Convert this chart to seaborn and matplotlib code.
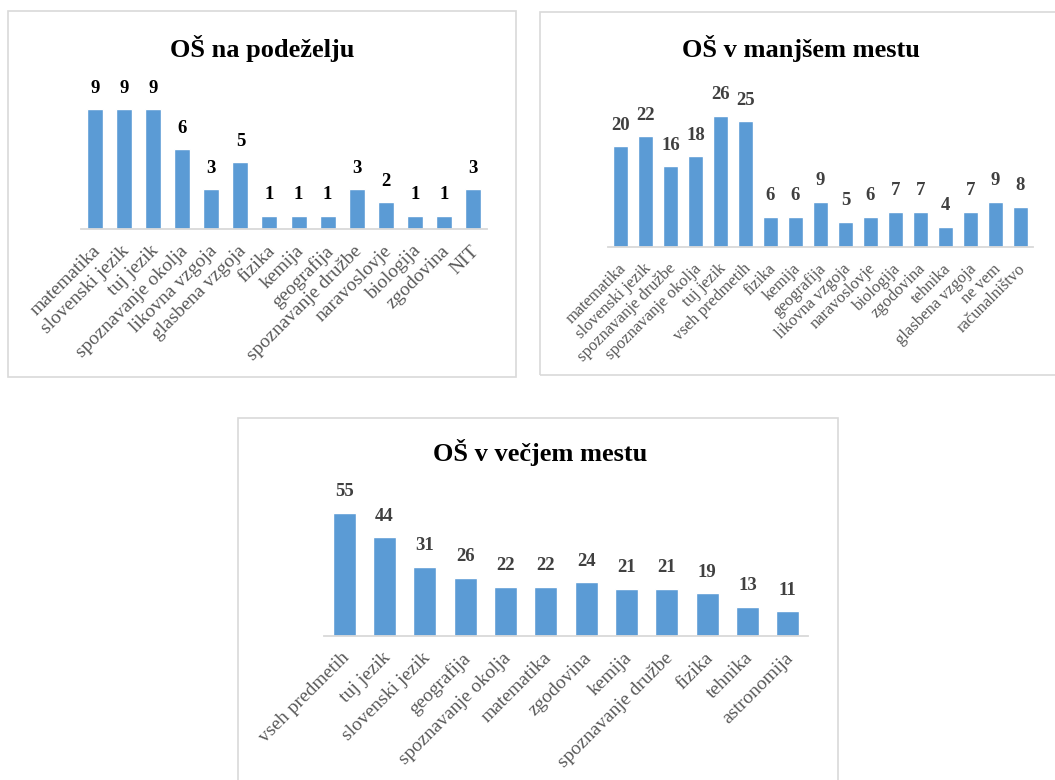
import matplotlib.pyplot as plt
import seaborn as sns
from matplotlib.patches import Rectangle
from matplotlib.transforms import ScaledTranslation

# podatki, odčitani s slike
podezelje_predmeti = ['matematika', 'slovenski jezik', 'tuj jezik', 'spoznavanje okolja',
                      'likovna vzgoja', 'glasbena vzgoja', 'fizika', 'kemija', 'geografija',
                      'spoznavanje družbe', 'naravoslovje', 'biologija', 'zgodovina', 'NIT']
podezelje_st = [9, 9, 9, 6, 3, 5, 1, 1, 1, 3, 2, 1, 1, 3]

manjse_predmeti = ['matematika', 'slovenski jezik', 'spoznavanje družbe', 'spoznavanje okolja',
                   'tuj jezik', 'vseh predmetih', 'fizika', 'kemija', 'geografija',
                   'likovna vzgoja', 'naravoslovje', 'biologija', 'zgodovina', 'tehnika',
                   'glasbena vzgoja', 'ne vem', 'računalništvo']
manjse_st = [20, 22, 16, 18, 26, 25, 6, 6, 9, 5, 6, 7, 7, 4, 7, 9, 8]

vecje_predmeti = ['vseh predmetih', 'tuj jezik', 'slovenski jezik', 'geografija',
                  'spoznavanje okolja', 'matematika', 'zgodovina', 'kemija',
                  'spoznavanje družbe', 'fizika', 'tehnika', 'astronomija']
vecje_st = [55, 44, 31, 26, 22, 22, 24, 21, 21, 19, 13, 11]

sns.set_style('white')
plt.rcParams['font.family'] = ['Liberation Serif', 'DejaVu Serif']

W, H = 1055, 780
fig = plt.figure(figsize=(W / 100, H / 100), dpi=100)


def px(x0, y0, x1, y1):
    # piksli (zgoraj levo) -> delež slike
    return [x0 / W, 1 - y1 / H, (x1 - x0) / W, (y1 - y0) / H]


def okvir(x0, y0, x1, y1):
    fig.add_artist(Rectangle((x0 / W, 1 - y1 / H), (x1 - x0) / W, (y1 - y0) / H,
                             transform=fig.transFigure, fill=False,
                             ec='#D9D9D9', lw=1.2))


def graf(rect, predmeti, st, ymax, naslov, tpos, lbl_col, tick_fs, sirina):
    ax = fig.add_axes(px(*rect))
    sns.barplot(x=predmeti, y=st, color='#5B9BD5', width=sirina, saturation=1, ax=ax)
    ax.set_ylim(0, ymax)
    ax.bar_label(ax.containers[0], padding=9, fontsize=13.5, fontweight='bold', color=lbl_col)
    sns.despine(ax=ax, left=True)
    ax.spines['bottom'].set_color('#D9D9D9')
    ax.spines['bottom'].set_linewidth(1.3)
    ax.set_yticks([])
    ax.tick_params(axis='x', length=0, pad=14)
    zamik = ScaledTranslation(3 / 100, 0, fig.dpi_scale_trans)
    for t in ax.get_xticklabels():
        t.set_transform(t.get_transform() + zamik)
    plt.setp(ax.get_xticklabels(), rotation=45, ha='right', va='center',
             rotation_mode='anchor', fontsize=tick_fs, color='#595959')
    fig.text(tpos[0] / W, 1 - tpos[1] / H, naslov, ha='center', va='baseline',
             fontsize=19, fontweight='bold', color='black')
    return ax


okvir(8, 11, 516, 377)
okvir(540, 12, 1060, 375)
okvir(238, 418, 838, 790)

graf((80.5, 229 - 133.3, 487.5, 229), podezelje_predmeti, podezelje_st, 10,
     'OŠ na podeželju', (262, 57), 'black', 14, 0.55)
graf((608, 247 - 151.2, 1033, 247), manjse_predmeti, manjse_st, 30,
     'OŠ v manjšem mestu', (801, 57), '#404040', 12, 0.6)
graf((324, 636 - 134.4, 808, 636), vecje_predmeti, vecje_st, 60,
     'OŠ v večjem mestu', (540, 461), '#404040', 14, 0.57)

fig.savefig('out.png', dpi=100, facecolor='white')
